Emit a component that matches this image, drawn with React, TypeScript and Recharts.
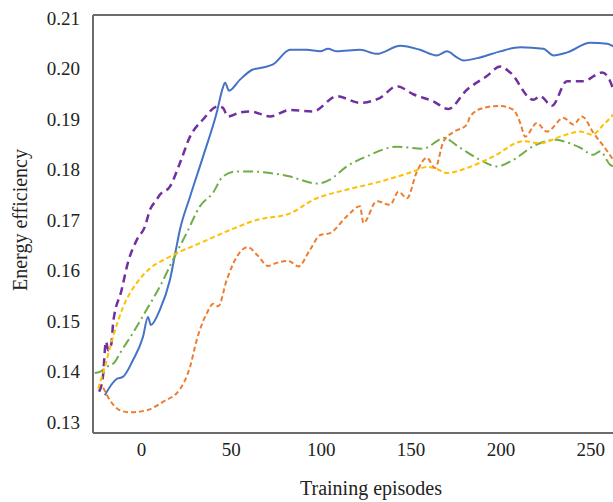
import React from "react";
import { LineChart, Line, XAxis, YAxis, ReferenceLine } from "recharts";

const xTicks = [0, 50, 100, 150, 200, 250];
const yTicks = [0.13, 0.14, 0.15, 0.16, 0.17, 0.18, 0.19, 0.2, 0.21];

const blueX = [-20.4, -13.9, -10.4, -4.8, 0.8, 3.6, 5.2, 10.2, 15.8, 18.6, 21.4, 27, 34.2, 41.8, 45.3, 46.5, 48.7, 54.8, 62, 67.6, 73.2, 82.7, 92, 99.4, 103.8, 108.7, 121.6, 131, 144, 155, 164.4, 170, 175.5, 179, 188.5, 199.6, 210.8, 223.6, 229.2, 237, 249.7, 259.2, 262.6];
const blueY = [0.1353, 0.1385, 0.1389, 0.1422, 0.1468, 0.1508, 0.1492, 0.1522, 0.1581, 0.1631, 0.1681, 0.1746, 0.1825, 0.1912, 0.1962, 0.1972, 0.1956, 0.1978, 0.1998, 0.2002, 0.2008, 0.2037, 0.2037, 0.2034, 0.2039, 0.2034, 0.2037, 0.2029, 0.2045, 0.2037, 0.2026, 0.2034, 0.2022, 0.2016, 0.2022, 0.2034, 0.2042, 0.2039, 0.2026, 0.2032, 0.2051, 0.2049, 0.2044];

const purpleX = [-23.6, -21.5, -19.8, -18.5, -16.7, -15.8, -11.1, -7.6, -2.7, 1.9, 4.7, 8.4, 10.2, 15.8, 21.4, 27, 34.2, 42.6, 45.3, 48.1, 54.8, 60.4, 71.5, 82.7, 95.5, 108.7, 121.6, 132.8, 142.1, 151.2, 162.3, 170.7, 181.1, 192.2, 199.6, 205.2, 218, 221.9, 228.4, 236.8, 245.9, 256.3, 259.8, 262.6];
const purpleY = [0.136, 0.1389, 0.1459, 0.1442, 0.1456, 0.1496, 0.1561, 0.1615, 0.166, 0.1687, 0.172, 0.174, 0.175, 0.1766, 0.1813, 0.1865, 0.1899, 0.1925, 0.1922, 0.1905, 0.1913, 0.1915, 0.1905, 0.1918, 0.1915, 0.1945, 0.1932, 0.1942, 0.1965, 0.1949, 0.1935, 0.192, 0.1958, 0.1985, 0.2004, 0.1992, 0.1938, 0.1945, 0.1926, 0.1975, 0.1975, 0.1992, 0.1982, 0.1958];

const greenX = [-26, -23.2, -19.4, -14.8, -12, -4.8, 2.8, 10.2, 17.5, 25.1, 32.5, 39.8, 45.3, 53, 60.4, 71.5, 82.7, 88.2, 97.5, 104.9, 114.2, 125.4, 142.1, 156.7, 164.4, 167.9, 177.3, 188.5, 197.8, 206.9, 218, 231.2, 234.7, 244.2, 251.4, 255.3, 260.9, 262.6];
const greenY = [0.1397, 0.1399, 0.1409, 0.1419, 0.1436, 0.1476, 0.1522, 0.1568, 0.1621, 0.1674, 0.1727, 0.1754, 0.1786, 0.1796, 0.1796, 0.1793, 0.1786, 0.178, 0.1772, 0.178, 0.1806, 0.1826, 0.1845, 0.1841, 0.1856, 0.1863, 0.1843, 0.1819, 0.1806, 0.1819, 0.1846, 0.1859, 0.1856, 0.1843, 0.1829, 0.1836, 0.1809, 0.1806];

const yellowX = [-24.1, -20.4, -15.8, -10.2, -2.7, 4.7, 14, 19.5, 32.5, 49.2, 64.1, 82.7, 95.6, 114.2, 132.8, 151.3, 158.8, 164.4, 169.9, 181.1, 195.9, 212.6, 221.9, 233, 244.2, 250.7, 257.2, 262.6];
const yellowY = [0.1366, 0.1409, 0.1469, 0.1528, 0.1575, 0.1604, 0.1624, 0.1634, 0.1654, 0.168, 0.17, 0.1713, 0.174, 0.176, 0.1776, 0.1796, 0.1805, 0.1801, 0.1793, 0.1803, 0.1826, 0.1856, 0.1852, 0.1865, 0.1875, 0.1869, 0.1889, 0.1909];

const orangeX = [-21.3, -17.6, -12, -6.5, 2.8, 12.1, 21.4, 27, 30.7, 36.3, 40, 42.7, 47.4, 53, 59, 64.8, 70.4, 75.2, 81.7, 87.3, 93.8, 99.4, 104.9, 114.2, 121.6, 123.5, 130.9, 138.4, 143, 147.7, 153.2, 158.8, 163.4, 168, 173.6, 181.1, 182.9, 190.3, 199.6, 207, 210.8, 213.5, 220, 225.6, 234.9, 240.4, 245.1, 251.6, 257.2, 262.6];
const orangeY = [0.1368, 0.1343, 0.1323, 0.1319, 0.1323, 0.134, 0.1365, 0.1409, 0.1462, 0.1515, 0.1534, 0.1529, 0.1581, 0.1627, 0.1646, 0.1629, 0.1609, 0.1615, 0.1619, 0.1608, 0.1641, 0.167, 0.1674, 0.1707, 0.1727, 0.1694, 0.1737, 0.173, 0.1756, 0.1743, 0.1795, 0.1823, 0.1803, 0.1855, 0.1874, 0.1889, 0.1905, 0.1922, 0.1926, 0.1918, 0.1892, 0.1865, 0.1892, 0.1875, 0.1902, 0.1889, 0.1905, 0.1872, 0.1846, 0.1819];

const zip = (xs: number[], ys: number[]) => xs.map((x, i) => ({ x, y: ys[i] }));

const series = [
  { name: "blue", data: zip(blueX, blueY), color: "#4472C4", dash: undefined, width: 2 },
  { name: "purple", data: zip(purpleX, purpleY), color: "#7030A0", dash: "8 5", width: 2.5 },
  { name: "green", data: zip(greenX, greenY), color: "#70AD47", dash: "10 4 2 4", width: 2 },
  { name: "yellow", data: zip(yellowX, yellowY), color: "#FFC000", dash: "5 3", width: 2 },
  { name: "orange", data: zip(orangeX, orangeY), color: "#ED7D31", dash: "5 3", width: 2 },
];

const FONT = '"Liberation Serif", "Times New Roman", serif';
const AXIS_COLOR = "#6b6b6b";

const YLabel = (props: any) => {
  const vb = props.viewBox || {};
  const cx = 20;
  const cy = (vb.y ?? 15) + (vb.height ?? 418) / 2 - 4;
  return (
    <text
      x={cx}
      y={cy}
      transform={`rotate(-90, ${cx}, ${cy})`}
      textAnchor="middle"
      dominantBaseline="central"
      fontFamily={FONT}
      fontSize={20}
      fill="#222"
    >
      Energy efficiency
    </text>
  );
};

export default function App() {
  return (
    <div style={{ position: "absolute", left: 0, top: 0, width: 613, height: 502, overflow: "hidden", background: "#fff" }}>
      <LineChart width={659} height={502} margin={{ top: 15, right: 0, left: 0, bottom: 0 }}>
        <XAxis
          type="number"
          dataKey="x"
          domain={[-27, 288]}
          ticks={xTicks}
          allowDataOverflow
          height={69}
          tickLine={false}
          tickSize={0}
          tickMargin={10}
          axisLine={{ stroke: AXIS_COLOR, strokeWidth: 2 }}
          tick={{ fontFamily: FONT, fontSize: 19, fill: "#222" }}
          label={{ value: "Training episodes", position: "insideBottom", offset: 7, dx: -5, fontFamily: FONT, fontSize: 20, fill: "#222" }}
        />
        <YAxis
          type="number"
          domain={[0.1278, 0.2106]}
          ticks={yTicks}
          allowDataOverflow
          width={93}
          tickLine={false}
          tickSize={0}
          tickMargin={13}
          axisLine={{ stroke: AXIS_COLOR, strokeWidth: 2 }}
          tick={{ fontFamily: FONT, fontSize: 19, fill: "#222" }}
          tickFormatter={(v: number) => v.toFixed(2)}
          label={<YLabel />}
        />
        <ReferenceLine y={0.2106} stroke={AXIS_COLOR} strokeWidth={2} />
        {series.map((s) => (
          <Line
            key={s.name}
            data={s.data}
            dataKey="y"
            type="monotone"
            stroke={s.color}
            strokeWidth={s.width}
            strokeDasharray={s.dash}
            dot={false}
            activeDot={false}
            isAnimationActive={false}
          />
        ))}
      </LineChart>
    </div>
  );
}
